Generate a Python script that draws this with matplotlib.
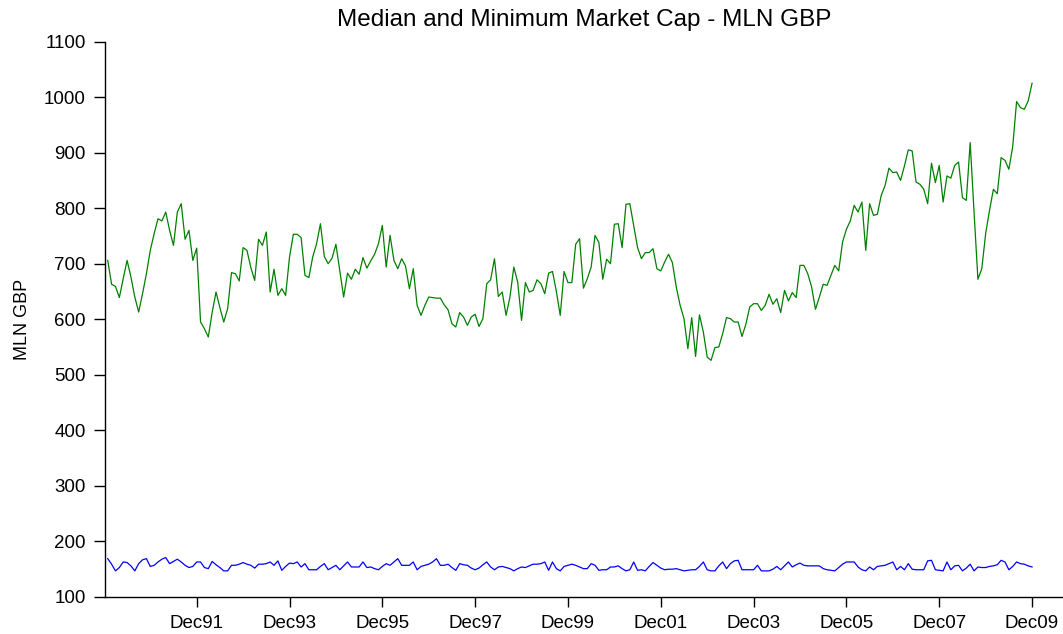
import numpy as np
import matplotlib.pyplot as plt

plt.rcParams['font.family'] = ['Liberation Sans', 'DejaVu Sans']

# monthly observations, Jan 1990 .. Dec 2009
median_cap = [
    706, 663, 659, 639, 673, 706, 676, 640, 613, 646, 682, 724,
    754, 781, 777, 793, 760, 733, 793, 808, 744, 760, 706, 728,
    595, 583, 568, 612, 649, 621, 595, 619, 684, 682, 669, 729,
    724, 693, 670, 744, 733, 757, 649, 690, 643, 655, 643, 712,
    753, 753, 747, 679, 675, 712, 736, 772, 713, 700, 710, 735,
    688, 640, 683, 672, 690, 681, 711, 692, 705, 717, 736, 769,
    694, 751, 706, 691, 709, 696, 655, 691, 625, 607, 625, 640,
    639, 638, 638, 626, 617, 592, 586, 612, 604, 589, 604, 609,
    587, 601, 664, 671, 709, 641, 649, 607, 640, 694, 667, 598,
    666, 649, 652, 671, 664, 646, 683, 686, 650, 607, 686, 666,
    666, 735, 745, 656, 673, 694, 751, 738, 672, 708, 700, 771,
    772, 729, 807, 808, 769, 729, 709, 720, 720, 727, 691, 687,
    703, 717, 702, 658, 625, 601, 547, 603, 533, 608, 577, 532,
    526, 549, 550, 574, 603, 601, 595, 595, 569, 591, 622, 628,
    628, 616, 625, 645, 627, 637, 612, 652, 633, 648, 639, 697,
    697, 682, 658, 618, 640, 663, 661, 679, 697, 687, 739, 762,
    777, 805, 793, 811, 724, 808, 787, 789, 823, 841, 872, 864,
    865, 850, 876, 905, 903, 847, 843, 834, 808, 881, 846, 877,
    811, 858, 854, 877, 883, 819, 814, 918, 793, 672, 691, 754,
    796, 834, 826, 891, 886, 870, 911, 992, 981, 978, 993, 1025,
]

minimum_cap = [
    169, 159, 147, 153, 163, 162, 156, 147, 160, 167, 169, 155,
    157, 163, 168, 171, 160, 164, 168, 163, 157, 153, 155, 163,
    163, 153, 151, 164, 158, 153, 147, 147, 157, 157, 159, 162,
    159, 157, 152, 159, 159, 160, 163, 157, 165, 148, 155, 161,
    160, 163, 154, 160, 149, 149, 149, 155, 160, 149, 153, 157,
    149, 156, 163, 154, 154, 154, 163, 153, 154, 151, 149, 155,
    160, 157, 163, 169, 157, 157, 157, 163, 149, 155, 157, 159,
    163, 169, 157, 157, 159, 153, 148, 160, 158, 157, 152, 149,
    152, 158, 163, 154, 149, 154, 155, 153, 151, 147, 151, 154,
    153, 156, 159, 159, 160, 163, 148, 163, 151, 147, 155, 157,
    159, 157, 154, 151, 151, 160, 157, 148, 149, 149, 154, 154,
    156, 151, 147, 149, 163, 148, 149, 147, 155, 162, 157, 152,
    149, 150, 150, 151, 149, 147, 148, 149, 149, 155, 163, 149,
    147, 147, 156, 163, 151, 160, 165, 166, 149, 149, 149, 149,
    157, 147, 147, 147, 150, 155, 149, 156, 163, 154, 158, 161,
    157, 156, 156, 156, 156, 151, 149, 148, 147, 153, 159, 163,
    163, 163, 154, 149, 147, 154, 149, 155, 156, 157, 160, 163,
    149, 155, 149, 160, 150, 149, 149, 149, 165, 166, 149, 148,
    147, 163, 149, 156, 157, 147, 152, 159, 147, 154, 153, 153,
    155, 156, 158, 166, 163, 149, 155, 163, 160, 159, 156, 154,
]

tick_pos = [23, 47, 71, 95, 119, 143, 167, 191, 215, 239]
tick_lab = ['Dec91', 'Dec93', 'Dec95', 'Dec97', 'Dec99',
            'Dec01', 'Dec03', 'Dec05', 'Dec07', 'Dec09']

months = np.arange(len(median_cap))

fig = plt.figure(figsize=(10.63, 6.34), dpi=100)
ax = fig.add_axes([0.0988, 0.0584, 0.9012, 0.8761])

ax.plot(months, median_cap, color='#008000', lw=0.9)
ax.plot(months, minimum_cap, color='#0000ff', lw=0.9)

ax.set_xlim(-0.7, 247)
ax.set_ylim(100, 1100)
ax.set_yticks(np.arange(100, 1101, 100))
ax.set_xticks(tick_pos)
ax.set_xticklabels(tick_lab)

for side in ['top', 'right']:
    ax.spines[side].set_visible(False)
ax.spines['left'].set_linewidth(1.0)
ax.spines['bottom'].set_linewidth(1.0)
ax.tick_params(axis='y', direction='out', length=8, width=1, labelsize=13.5, pad=6)
ax.tick_params(axis='x', direction='out', length=7, width=1, labelsize=13.5, pad=6)

ax.set_ylabel('MLN GBP', fontsize=13, labelpad=9)
ax.set_title('Median and Minimum Market Cap - MLN GBP', fontsize=17.5, pad=11)

fig.savefig('out.png', dpi=100)
